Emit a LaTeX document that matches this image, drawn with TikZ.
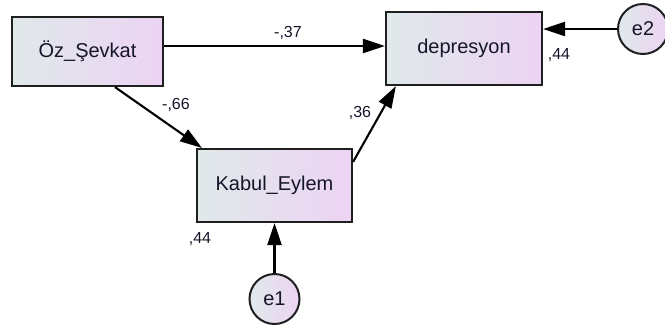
\documentclass[tikz,border=0pt]{standalone}
\usepackage{fontspec}
\setmainfont{Liberation Sans}
\usetikzlibrary{arrows.meta}
\definecolor{fillL}{HTML}{E0E9EA}
\definecolor{fillR}{HTML}{ECD3F3}
\definecolor{txt}{HTML}{15152A}
\begin{document}
\begin{tikzpicture}[x=1pt,y=-1pt,
  varbox/.style={draw=black!88, line width=2.2pt, left color=fillL, right color=fillR,
    inner sep=0pt, font=\fontsize{20}{24}\selectfont, text=txt},
  errc/.style={circle, draw=black!88, line width=2pt, left color=fillL, right color=fillR,
    minimum size=50pt, inner sep=0pt, font=\fontsize{20}{24}\selectfont, text=txt},
  arr/.style={line width=2.1pt, -{Triangle[length=22pt,width=14pt]}},
  lab/.style={font=\fontsize{16}{18}\selectfont, text=txt, inner sep=0pt}]
\useasboundingbox (0,0) rectangle (665,330);
\node[varbox, minimum width=151pt, minimum height=69pt] (oz) at (87.5,51.5) {Öz\_Şevkat};
\node[varbox, minimum width=156pt, minimum height=73pt] (dep) at (464,48.5) {depresyon};
\node[varbox, minimum width=155pt, minimum height=73pt] (kab) at (274.5,185.5) {Kabul\_Eylem};
\node[errc] (e2) at (643,29) {e2};
\node[errc] (e1) at (274.5,299) {e1};
\draw[arr] ([yshift=5.5pt]oz.east) -- ([yshift=2.5pt]dep.west);
\draw[arr] ([xshift=27.5pt]oz.south) -- ([xshift=6pt]kab.north west);
\draw[arr] ([yshift=-14pt]kab.north east) -- ([xshift=11pt]dep.south west);
\draw[arr] (e2) -- (dep.east |- e2);
\draw[arr] (e1) -- (kab);
\node[lab] (l37) at (288,33) {-,37};
\node[lab] (l66) at (176,105) {-,66};
\node[lab] (l36) at (360,113) {,36};
\node[lab] (l44a) at (559,55) {,44};
\node[lab] (l44b) at (200,239) {,44};
\end{tikzpicture}
\end{document}
